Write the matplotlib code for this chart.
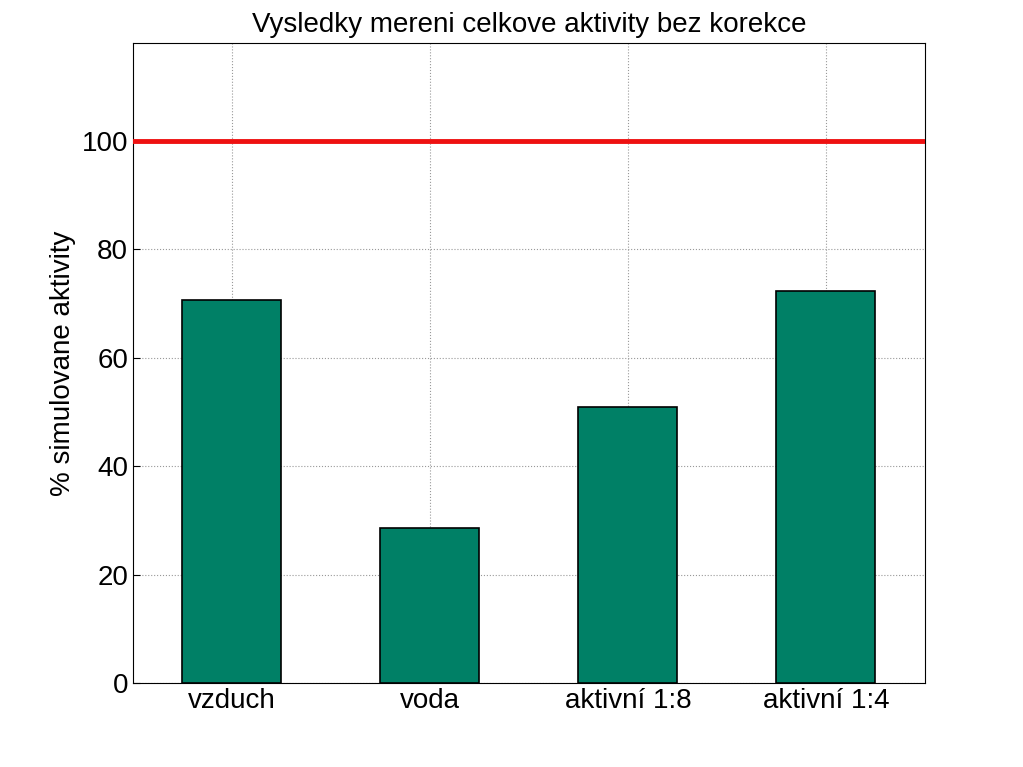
import numpy as np
import matplotlib
matplotlib.use('Agg')
import matplotlib.pyplot as plt

plt.rcParams['font.family'] = ['Liberation Sans', 'DejaVu Sans']

categories = ['vzduch', 'voda', 'aktivní 1:8', 'aktivní 1:4']
values = [70.6, 28.6, 50.9, 72.3]
reference = 100

fig = plt.figure(figsize=(10.23, 7.67), dpi=100)
ax = fig.add_axes([0.130, 0.1095, 0.774, 0.8345])

x = np.arange(1, len(categories) + 1)
ax.bar(x, values, width=0.5, color='#008066', edgecolor='black', linewidth=1.2, zorder=3)
ax.axhline(reference, color='#ee1111', linewidth=3.5, zorder=4)

ax.set_xlim(0.5, 4.5)
ax.set_ylim(0, 118)
ax.set_xticks(x)
ax.set_xticklabels(categories)
ax.set_yticks(np.arange(0, 101, 20))
ax.tick_params(labelsize=20, direction='in', length=5)
ax.grid(True, linestyle=':', color='#999999', linewidth=0.8, zorder=0)
ax.set_axisbelow(True)
ax.set_ylabel('% simulovane aktivity', fontsize=20)
ax.set_title('Vysledky mereni celkove aktivity bez korekce', fontsize=20, pad=8)

fig.savefig('out.png', dpi=100)
